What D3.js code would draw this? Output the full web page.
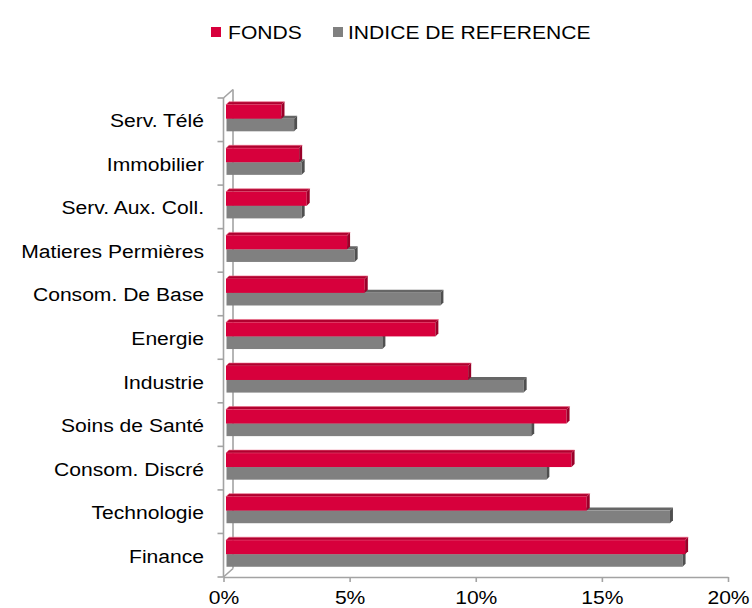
<!DOCTYPE html>
<html>
<head>
<meta charset="utf-8">
<script src="https://cdn.jsdelivr.net/npm/d3@7"></script>
<style>
  html, body { margin: 0; padding: 0; background: #fff; }
  svg { display: block; }
  text { font-family: "Liberation Sans", Arial, sans-serif; fill: #000; }
</style>
</head>
<body>
<svg id="chart" width="752" height="608"></svg>
<script>
const categories = ["Serv. Télé","Immobilier","Serv. Aux. Coll.","Matieres Permières","Consom. De Base","Energie","Industrie","Soins de Santé","Consom. Discré","Technologie","Finance"];
const fonds  = [2.2, 2.9, 3.2, 4.8, 5.5, 8.3, 9.6, 13.5, 13.7, 14.3, 18.2];
const indice = [2.7, 3.0, 3.0, 5.1, 8.5, 6.2, 11.8, 12.1, 12.7, 17.6, 18.1];
const xTicks = [0, 5, 10, 15, 20];
const seriesNames = ["FONDS", "INDICE DE REFERENCE"];

const svg = d3.select("#chart");
const FS = 19, SX = 1.11; // font size and horizontal stretch

function stretchText(g, x, y, str, anchor) {
  return g.append("text")
    .attr("transform", `translate(${x},${y}) scale(${SX},1)`)
    .attr("text-anchor", anchor)
    .style("font-size", FS + "px")
    .text(str);
}

const x = d3.scaleLinear().domain([0, 20]).range([223.5, 728]);
const y = d3.scaleBand().domain(categories).range([98, 577]);
const bw = y.bandwidth();

const wallDx = 9.5, wallDy = 8.5;   // 3D wall depth
const barShift = 2.5;               // bar front plane shift
const d = 3;                        // bar depth
const axisColor = "#a3a3a3";

// axes / walls
const ag = svg.append("g").attr("stroke", axisColor).attr("stroke-width", 1.6).attr("fill", "none");
const x0 = x(0), yTop = y.range()[0], yBot = y.range()[1];
ag.append("line").attr("x1", x0).attr("y1", yTop).attr("x2", x0).attr("y2", yBot);
ag.append("line").attr("x1", x0 + wallDx).attr("y1", yTop - wallDy).attr("x2", x0 + wallDx).attr("y2", yBot - wallDy);
ag.append("line").attr("x1", x0).attr("y1", yTop).attr("x2", x0 + wallDx).attr("y2", yTop - wallDy);
ag.append("line").attr("x1", x0).attr("y1", yBot).attr("x2", x0 + wallDx).attr("y2", yBot - wallDy);
// category ticks
const bounds = categories.map(c => y(c)).concat([yBot]);
ag.selectAll("line.ct").data(bounds).join("line").attr("class", "ct")
  .attr("x1", x0 - 6).attr("x2", x0).attr("y1", v => v).attr("y2", v => v);

// bottom axis
const axis = d3.axisBottom(x).tickValues(xTicks).tickFormat(v => v + "%").tickSizeInner(5).tickSizeOuter(0);
const axG = svg.append("g").attr("transform", `translate(0,${yBot})`).call(axis);
axG.select(".domain").attr("stroke", axisColor).attr("stroke-width", 1.6);
axG.selectAll(".tick line").attr("stroke", axisColor).attr("stroke-width", 1.6);
axG.selectAll(".tick text").remove();
axG.selectAll(".tick").each(function(v) {
  stretchText(d3.select(this), 0, 27, v + "%", "middle");
});

// category labels
const lg = svg.append("g");
categories.forEach(c => stretchText(lg, 204, y(c) + bw / 2 + 7.5, c, "end"));

// 3D bars
function bar3d(g, x0b, xe, yt, h, cFront, cTop, cSide, topStroke) {
  g.append("polygon")
    .attr("points", [[x0b, yt], [x0b + d, yt - d], [xe + d, yt - d], [xe, yt]].map(p => p.join(",")).join(" "))
    .attr("fill", cTop).attr("stroke", topStroke || "none").attr("stroke-width", 0.6);
  g.append("rect").attr("x", x0b).attr("y", yt).attr("width", xe - x0b).attr("height", h).attr("fill", cFront);
  g.append("polygon")
    .attr("points", [[xe, yt], [xe + d, yt - d], [xe + d, yt + h - d], [xe, yt + h]].map(p => p.join(",")).join(" "))
    .attr("fill", cSide);
}

const bg = svg.append("g");
const hr = bw * 0.32, hg = bw * 0.29;
categories.forEach((c, i) => {
  const yr = y(c) + bw * 0.155;
  const yg = yr + hr;
  const xb = x(0) + barShift;
  bar3d(bg, xb + 0.5, x(indice[i]) + barShift, yg, hg, "#808080", "#666666", "#4f4f4f");
  bar3d(bg, xb, x(fonds[i]) + barShift, yr, hr, "#d7003c", "#b0002f", "#9a0029", "#ef6a88");
});

// legend
const leg = svg.append("g");
const legItems = [
  { name: seriesNames[0], color: "#d7003c", sx: 211, tx: 228 },
  { name: seriesNames[1], color: "#808080", sx: 333, tx: 348 }
];
legItems.forEach(it => {
  leg.append("rect").attr("x", it.sx).attr("y", 27).attr("width", 10).attr("height", 10).attr("fill", it.color);
  stretchText(leg, it.tx, 39, it.name, "start");
});
</script>
</body>
</html>
